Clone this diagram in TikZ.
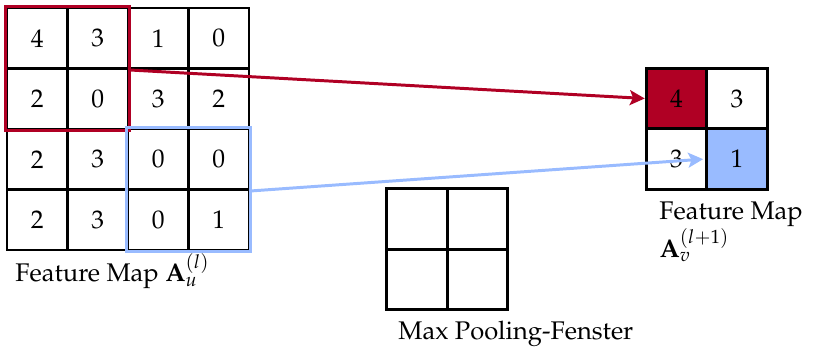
\documentclass[tikz,border=0pt]{standalone}
\usepackage[T1]{fontenc}
\usepackage{mathpazo}
\usetikzlibrary{arrows.meta}
\definecolor{myred}{RGB}{176,0,36}
\definecolor{myblue}{RGB}{153,187,255}
\begin{document}
\begin{tikzpicture}[x=0.4701pt,y=-0.4701pt,
  cell/.style={draw=black,line width=1.4pt,minimum size=28.44pt,inner sep=0pt,font=\large},
  redbox/.style={draw=myred,line width=1.4pt},
  bluebox/.style={draw=myblue,line width=1.4pt},
  redarrow/.style={draw=myred,line width=1.4pt,-{Stealth[length=7pt,width=7pt,inset=1.5pt]}},
  bluearrow/.style={draw=myblue,line width=1.4pt,-{Stealth[length=7pt,width=7pt,inset=1.5pt]}},
  lab/.style={inner sep=0pt,font=\large}]
\useasboundingbox (0,0) rectangle (818,352);
% left feature map
\foreach \r/\a/\b/\c/\d in {1/4/3/1/0,2/2/0/3/2,3/2/3/0/0,4/2/3/0/1}{
  \foreach \col/\v in {1/\a,2/\b,3/\c,4/\d}{
    \node[cell] (L\r\col) at ({7+60.5*(\col-0.5)},{8+60.5*(\r-0.5)}) {\v};
  }
}
\draw[redbox] (L11.north west) rectangle (L22.south east);
\draw[bluebox] (L33.north west) rectangle (L44.south east);
% right feature map
\node[cell,fill=myred] (R11) at (676.5,98.5) {4};
\node[cell] (R12) at (737,98.5) {3};
\node[cell] (R21) at (676.5,159) {3};
\node[cell,fill=myblue] (R22) at (737,159) {1};
% pooling window
\node[cell] (P11) at (417,219) {};
\node[cell] (P12) at (477.5,219) {};
\node[cell] (P21) at (417,279.5) {};
\node[cell] (P22) at (477.5,279.5) {};
% arrows
\draw[redarrow] (L12.south east) -- (R11.west);
\draw[bluearrow,shorten >=1pt] (L34.south east) -- (R22.west);
% labels
\node[lab,anchor=base west] (labL) at (15,282) {Feature Map $\mathbf{A}_u^{(l)}$};
\node[lab,anchor=north west,align=left] (labR) at (659,201) {Feature Map\\$\mathbf{A}_v^{(l+1)}$};
\node[lab,anchor=base west] (labP) at (398,340) {Max Pooling-Fenster};
\end{tikzpicture}
\end{document}
